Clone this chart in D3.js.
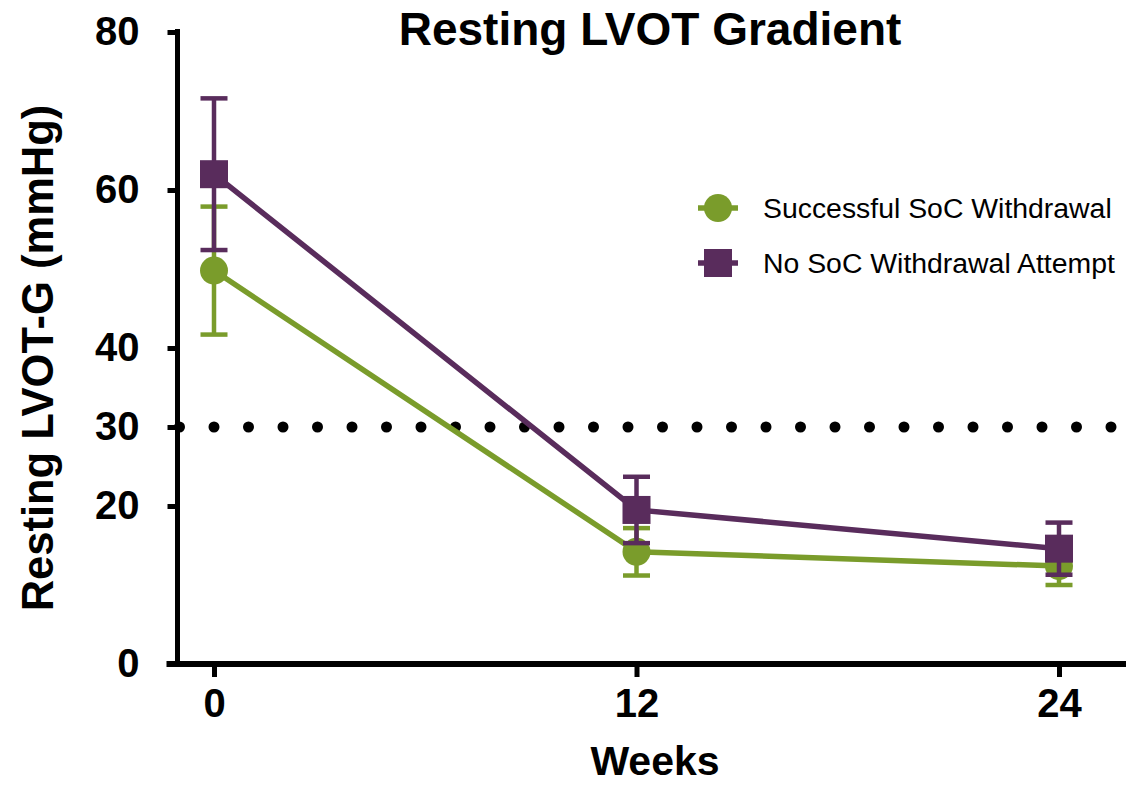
<!DOCTYPE html>
<html>
<head>
<meta charset="utf-8">
<script src="https://cdn.jsdelivr.net/npm/d3@7"></script>
<style>
  body { margin: 0; background: #fff; }
  svg text { font-family: Arial, "Liberation Sans", Helvetica, sans-serif; }
</style>
</head>
<body>
<svg id="chart"></svg>
<script>
// values
const weeks = [0, 12, 24];
const seriesNames = ["Successful SoC Withdrawal", "No SoC Withdrawal Attempt"];
const successMean = [49.8, 14.2, 12.4];
const successErr = [8.1, 3.0, 2.4];
const noAttemptMean = [62.0, 19.5, 14.6];
const noAttemptErr = [9.6, 4.2, 3.3];
const yTicks = [0, 20, 30, 40, 60, 80];
const threshold = 30;

const green = "#7a9c2b";
const purple = "#592c5c";

const width = 1128, height = 788;
const svg = d3.select("#chart").attr("width", width).attr("height", height);

const x = d3.scaleLinear().domain([0, 24]).range([214, 1059]);
const y = d3.scaleLinear().domain([0, 80]).range([664, 32]);
const axisLeftX = 177.5, axisRightX = 1126;

// threshold dotted line
svg.append("line")
  .attr("x1", axisLeftX + 2).attr("x2", 1116)
  .attr("y1", y(threshold)).attr("y2", y(threshold))
  .attr("stroke", "#000")
  .attr("stroke-width", 11)
  .attr("stroke-linecap", "round")
  .attr("stroke-dasharray", "0,34.5");

// y axis
const yAxisG = svg.append("g")
  .attr("transform", `translate(${axisLeftX},0)`)
  .call(d3.axisLeft(y).tickValues(yTicks).tickSize(10).tickSizeOuter(0).tickPadding(28));
yAxisG.select(".domain").attr("stroke-width", 5).attr("d", `M0,${y(0) + 3}V${y(80) - 3}`);
yAxisG.selectAll(".tick line").attr("stroke-width", 5);
yAxisG.selectAll(".tick text")
  .attr("font-size", 40).attr("font-weight", "bold").attr("fill", "#000")
  .attr("font-family", "Arial, 'Liberation Sans', sans-serif");

// x axis
const xAxisG = svg.append("g")
  .attr("transform", `translate(0,${y(0)})`)
  .call(d3.axisBottom(x).tickValues(weeks).tickSize(13).tickSizeOuter(0).tickPadding(12));
xAxisG.select(".domain").attr("stroke-width", 6).attr("d", `M${axisLeftX - 11},0H${axisRightX}`);
xAxisG.selectAll(".tick line").attr("stroke-width", 5);
xAxisG.selectAll(".tick text")
  .attr("font-size", 40).attr("font-weight", "bold").attr("fill", "#000")
  .attr("font-family", "Arial, 'Liberation Sans', sans-serif");

// titles
svg.append("text")
  .attr("x", 650).attr("y", 45)
  .attr("text-anchor", "middle")
  .attr("font-size", 46).attr("font-weight", "bold")
  .text("Resting LVOT Gradient");

svg.append("text")
  .attr("x", 655).attr("y", 775)
  .attr("text-anchor", "middle")
  .attr("font-size", 41).attr("font-weight", "bold")
  .text("Weeks");

svg.append("text")
  .attr("transform", "rotate(-90)")
  .attr("x", -358).attr("y", 53)
  .attr("text-anchor", "middle")
  .attr("font-size", 43.5).attr("font-weight", "bold")
  .text("Resting LVOT-G (mmHg)");

// series
const series = [
  { name: seriesNames[0], mean: successMean, err: successErr, color: green, shape: "circle" },
  { name: seriesNames[1], mean: noAttemptMean, err: noAttemptErr, color: purple, shape: "square" }
];

const capHalf = 13.5, markerSize = 28;

function drawMarker(g, shape, color, cx, cy) {
  if (shape === "circle") {
    g.append("circle").attr("cx", cx).attr("cy", cy).attr("r", markerSize / 2).attr("fill", color);
  } else {
    g.append("rect")
      .attr("x", cx - markerSize / 2).attr("y", cy - markerSize / 2)
      .attr("width", markerSize).attr("height", markerSize).attr("fill", color);
  }
}

const line = d3.line().x(d => x(d.w)).y(d => y(d.m));

series.forEach(s => {
  const pts = weeks.map((w, i) => ({ w: w, m: s.mean[i], e: s.err[i] }));
  const g = svg.append("g");

  // error bars
  pts.forEach(p => {
    g.append("line")
      .attr("x1", x(p.w)).attr("x2", x(p.w))
      .attr("y1", y(p.m + p.e)).attr("y2", y(p.m - p.e))
      .attr("stroke", s.color).attr("stroke-width", 4.5);
    [p.m + p.e, p.m - p.e].forEach(v => {
      g.append("line")
        .attr("x1", x(p.w) - capHalf).attr("x2", x(p.w) + capHalf)
        .attr("y1", y(v)).attr("y2", y(v))
        .attr("stroke", s.color).attr("stroke-width", 4.5);
    });
  });

  g.append("path")
    .datum(pts)
    .attr("d", line)
    .attr("fill", "none")
    .attr("stroke", s.color)
    .attr("stroke-width", 5.5);

  pts.forEach(p => drawMarker(g, s.shape, s.color, x(p.w), y(p.m)));
});

// legend
const legend = svg.append("g");
series.forEach((s, i) => {
  const cy = 208 + i * 55;
  legend.append("line")
    .attr("x1", 698).attr("x2", 738).attr("y1", cy).attr("y2", cy)
    .attr("stroke", s.color).attr("stroke-width", 5.5);
  drawMarker(legend, s.shape, s.color, 718, cy);
  legend.append("text")
    .attr("x", 763).attr("y", cy + 10)
    .attr("font-size", 28.4)
    .attr("fill", "#000")
    .text(s.name);
});
</script>
</body>
</html>
